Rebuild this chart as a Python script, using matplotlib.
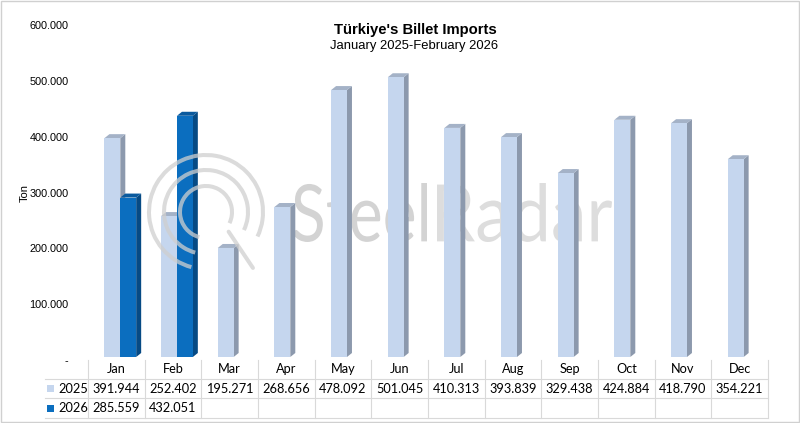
import numpy as np
import matplotlib
matplotlib.use('Agg')
import matplotlib.pyplot as plt
import matplotlib.transforms as mtransforms
from matplotlib.patches import Polygon, Rectangle, Arc, PathPatch
from matplotlib.lines import Line2D
from matplotlib.textpath import TextPath
from matplotlib.font_manager import FontProperties

months = ['Jan', 'Feb', 'Mar', 'Apr', 'May', 'Jun', 'Jul', 'Aug', 'Sep', 'Oct', 'Nov', 'Dec']
imports_2025 = [391944, 252402, 195271, 268656, 478092, 501045, 410313, 393839, 329438, 424884, 418790, 354221]
imports_2026 = [285559, 432051]
labels_2025 = ['391.944', '252.402', '195.271', '268.656', '478.092', '501.045',
               '410.313', '393.839', '329.438', '424.884', '418.790', '354.221']
labels_2026 = ['285.559', '432.051']

W, H = 800, 423
fig = plt.figure(figsize=(W / 100, H / 100), dpi=100)
fig.patch.set_facecolor('white')

def fx(px):
    return px / W

def fy(py):
    return 1 - py / H

# plot area in pixels: x 88..768, value 0 at y=360, 600.000 at y=25
ax = fig.add_axes([fx(88), fy(360), fx(768) - fx(88), fy(25) - fy(360)])
ax.patch.set_visible(False)
ax.set_xlim(0, 12)
ax.set_ylim(0, 600000)
for s in ax.spines.values():
    s.set_visible(False)
ax.set_xticks([])
ax.set_yticks(np.arange(0, 600001, 100000))
ax.set_yticklabels(['-' if v == 0 else f'{v:,.0f}'.replace(',', '.') for v in range(0, 600001, 100000)],
                   fontsize=7.8, family='Liberation Sans')
ax.tick_params(axis='y', length=0, pad=14)
ax.set_ylabel('Ton', fontsize=8, family='Liberation Sans', labelpad=0)

# 3d depth: 5 px right, 4 px up
dx = 5 * 12 / 680
dy = 4 * 600000 / 335
lift = ax.transData + mtransforms.ScaledTranslation(0, 3 / 100, fig.dpi_scale_trans)

def bar3d(x0, x1, v, front, side, top):
    ax.add_patch(Polygon([(x1, 0), (x1 + dx, dy), (x1 + dx, v + dy), (x1, v)],
                         closed=True, fc=side, ec='none', transform=lift, clip_on=False))
    ax.add_patch(Polygon([(x0, v), (x0 + dx, v + dy), (x1 + dx, v + dy), (x1, v)],
                         closed=True, fc=top, ec='none', transform=lift, clip_on=False))
    ax.add_patch(Rectangle((x0, 0), x1 - x0, v, fc=front, ec='none', transform=lift, clip_on=False))

c25 = ('#C5D6EE', '#8C99AD', '#A4B2C7')
c26 = ('#0B6EBF', '#064A84', '#0A5A9E')

for i, v in enumerate(imports_2025):
    bar3d(i + 0.29, i + 0.57, v, *c25)
for i, v in enumerate(imports_2026):
    bar3d(i + 0.57, i + 0.85, v, *c26)

# titles
fig.text(fx(415), fy(30), "Türkiye's Billet Imports", ha='center', va='center',
         fontsize=10.7, fontweight='bold', family='Liberation Sans')
fig.text(fx(414), fy(46), 'January 2025-February 2026', ha='center', va='center',
         fontsize=9.4, family='Liberation Sans')

# data table
grid = '#D9D9D9'
tr = mtransforms.blended_transform_factory(ax.transData, fig.transFigure)
for i in range(13):
    fig.add_artist(Line2D([i, i], [fy(360), fy(418)], color=grid, lw=0.8, transform=tr))
for py in [379, 398, 418]:
    fig.add_artist(Line2D([fx(45), fx(768)], [fy(py), fy(py)], color=grid, lw=0.8))

tfont = dict(family='Lato', fontsize=9.2, ha='center', va='center')
for i, m in enumerate(months):
    fig.text(i + 0.5, fy(369), m, transform=tr, **tfont)
    fig.text(i + 0.5, fy(388.5), labels_2025[i], transform=tr, **tfont)
for i, lab in enumerate(labels_2026):
    fig.text(i + 0.5, fy(408), lab, transform=tr, **tfont)

for py, name, col in [(388.5, '2025', c25[0]), (408, '2026', c26[0])]:
    fig.add_artist(Rectangle((fx(47), fy(py + 3.5)), fx(7), 7 / H, fc=col, ec='none'))
    fig.text(fx(58), fy(py), name, family='Lato', fontsize=9.2, ha='left', va='center')

# watermark: logo over the bars, lettering behind them
wm = '#CFCFCF'
cx, cy = 206, 212
for r in [57, 42, 26]:
    fig.add_artist(Arc((fx(cx), fy(cy)), 2 * r / W, 2 * r / H, theta1=318, theta2=262,
                       color=wm, lw=2.9, alpha=0.75))
a = np.deg2rad([-41, -50])
fig.add_artist(Line2D([fx(cx + 30 * np.cos(a[0])), fx(cx + 73 * np.cos(a[1]))],
                      [fy(cy - 30 * np.sin(a[0])), fy(cy - 73 * np.sin(a[1]))],
                      color=wm, lw=2.9, alpha=0.75, solid_capstyle='round'))

pix = mtransforms.Affine2D().scale(1 / W, 1 / H) + fig.transFigure

def stretched_text(s, left, right, top, bottom, color):
    p = TextPath((0, 0), s, size=1, prop=FontProperties(family='Lato'))
    ext = p.get_extents()
    t = mtransforms.Affine2D().translate(-ext.x0, -ext.y0) \
        .scale((right - left) / ext.width, (bottom - top) / ext.height) \
        .translate(left, H - bottom)
    fig.add_artist(PathPatch(t.transform_path(p), fc=color, ec='none', transform=pix, zorder=-1))

stretched_text('Steel', 293, 427, 183, 242, '#D3D3D3')
stretched_text('Radar', 437, 612, 183, 242, '#DDDDDD')

# outer frame
fig.add_artist(Rectangle((0.5 / W, 1.5 / H), 1 - 1.5 / W, 1 - 2.5 / H, fill=False, ec='#D0D0D0', lw=1))

fig.savefig('out.png', dpi=100)
